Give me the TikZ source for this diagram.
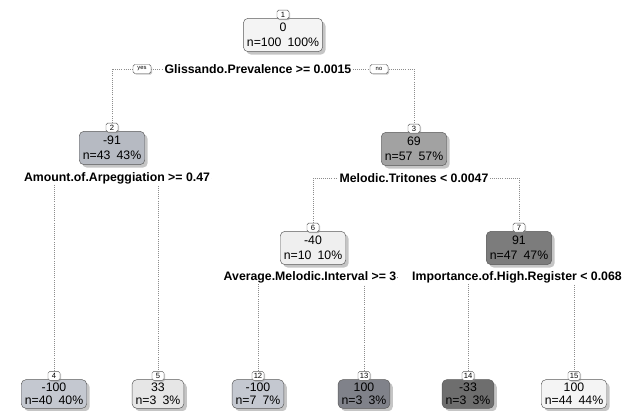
\documentclass[tikz,border=0pt]{standalone}
\usepackage{fontspec}
\setmainfont{Liberation Sans}
\usetikzlibrary{positioning,shadows,backgrounds}

\definecolor{shadeA}{HTML}{F4F4F4}
\definecolor{shadeB}{HTML}{B6BAC2}
\definecolor{shadeC}{HTML}{A2A2A2}
\definecolor{shadeD}{HTML}{EFEFEF}
\definecolor{shadeE}{HTML}{7C7C7C}
\definecolor{shadeF}{HTML}{C4C8D0}
\definecolor{shadeG}{HTML}{E6E6E6}
\definecolor{shadeH}{HTML}{80828A}
\definecolor{shadeI}{HTML}{6E6E6E}

\begin{document}
\begin{tikzpicture}[x=0.3mm,y=-0.3mm,
  tnode/.style={draw=black!65, rounded corners=4pt, align=center, inner xsep=3pt,
    inner ysep=1pt, minimum height=10mm, font=\fontsize{10.5}{13}\selectfont,
    drop shadow={shadow xshift=2.5pt, shadow yshift=-2.5pt, fill=black!45}},
  leaf/.style={tnode, minimum height=8.6mm, font=\fontsize{10.5}{11.5}\selectfont},
  numbox/.style={draw=black!65, fill=white, rounded corners=1.5pt, inner sep=1pt,
    font=\fontsize{6.5}{7}\selectfont, minimum width=3.6mm, minimum height=2.7mm,
    drop shadow={shadow xshift=1pt, shadow yshift=-1pt, fill=black!45}},
  ynbox/.style={numbox, font=\fontsize{5}{6}\selectfont, minimum width=5.4mm},
  split/.style={fill=white, inner sep=1pt, font=\bfseries\fontsize{10.5}{12}\selectfont},
  branch/.style={densely dotted, black!45, line width=0.8pt}]
  \useasboundingbox (0,0) rectangle (632,411);

  % root and first split
  \node[tnode, fill=shadeA] (n1) at (283,35) {0\\n=100\enspace100\%};
  \node[numbox, above=-1pt of n1] (k1) {1};
  \node[split] (s1) at (258,69) {Glissando.Prevalence >= 0.0015};
  \node[ynbox] (yes) at (142,69) {yes};
  \node[ynbox] (no) at (379,69) {no};

  % second level
  \node[tnode, fill=shadeB] (n2) at (112,148) {-91\\n=43\enspace43\%};
  \node[numbox, above=-1pt of n2] (k2) {2};
  \node[split] (s2) at (117,178) {Amount.of.Arpeggiation >= 0.47};
  \node[tnode, fill=shadeC] (n3) at (414,149) {69\\n=57\enspace57\%};
  \node[numbox, above=-1pt of n3] (k3) {3};
  \node[split] (s3) at (414,178) {Melodic.Tritones < 0.0047};

  % third level
  \node[tnode, fill=shadeD] (n6) at (313,248) {-40\\n=10\enspace10\%};
  \node[numbox, above=-1pt of n6] (k6) {6};
  \node[split] (s6) at (310,277) {Average.Melodic.Interval >= 3};
  \node[tnode, fill=shadeE] (n7) at (519,248) {91\\n=47\enspace47\%};
  \node[numbox, above=-1pt of n7] (k7) {7};
  \node[split] (s7) at (517,277) {Importance.of.High.Register < 0.068};

  % leaves
  \node[leaf, fill=shadeF] (n4) at (54,394) {-100\\n=40\enspace40\%};
  \node[numbox, above=-1pt of n4] (k4) {4};
  \node[leaf, fill=shadeG] (n5) at (158,394) {33\\n=3\enspace3\%};
  \node[numbox, above=-1pt of n5] (k5) {5};
  \node[leaf, fill=shadeF] (n12) at (258,394) {-100\\n=7\enspace7\%};
  \node[numbox, above=-1pt of n12] (k12) {12};
  \node[leaf, fill=shadeH] (n13) at (364,394) {100\\n=3\enspace3\%};
  \node[numbox, above=-1pt of n13] (k13) {13};
  \node[leaf, fill=shadeI] (n14) at (468,394) {-33\\n=3\enspace3\%};
  \node[numbox, above=-1pt of n14] (k14) {14};
  \node[leaf, fill=shadeA] (n15) at (574,394) {100\\n=44\enspace44\%};
  \node[numbox, above=-1pt of n15] (k15) {15};

  \begin{pgfonlayer}{background}
    \draw[branch] (k2.north) |- (s1) -| (k3.north);
    \draw[branch] (k4.north) |- (s2) -| (k5.north);
    \draw[branch] (k6.north) |- (s3) -| (k7.north);
    \draw[branch] (k12.north) |- (s6) -| (k13.north);
    \draw[branch] (k14.north) |- (s7) -| (k15.north);
  \end{pgfonlayer}
\end{tikzpicture}
\end{document}
